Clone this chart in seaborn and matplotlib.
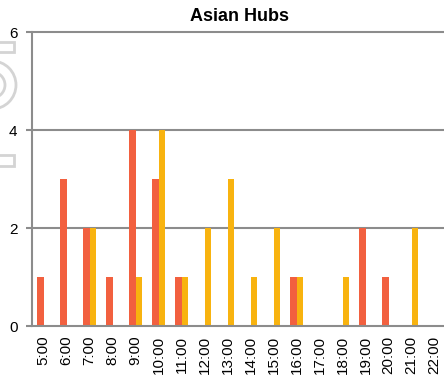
import matplotlib
matplotlib.use("Agg")
import matplotlib.pyplot as plt
from matplotlib.patches import Rectangle, Ellipse
import pandas as pd
import seaborn as sns

# Hourly counts for the two series
hours = ["5:00", "6:00", "7:00", "8:00", "9:00", "10:00", "11:00", "12:00", "13:00",
         "14:00", "15:00", "16:00", "17:00", "18:00", "19:00", "20:00", "21:00", "22:00"]
series_a = [1, 3, 2, 1, 4, 3, 1, 0, 0, 0, 0, 1, 0, 0, 2, 1, 0, 0]
series_b = [0, 0, 2, 0, 1, 4, 1, 2, 3, 1, 2, 1, 0, 1, 0, 0, 2, 0]
series_names = ["A", "B"]
colors = ["#F2603F", "#F8B30F"]
y_ticks = [0, 2, 4, 6]
title = "Asian Hubs"

df = pd.DataFrame({
    "hour": hours * 2,
    "count": series_a + series_b,
    "series": [series_names[0]] * len(hours) + [series_names[1]] * len(hours),
})

sns.set_style("white")
plt.rcParams["font.family"] = ["Liberation Sans", "DejaVu Sans"]
plt.rcParams["text.color"] = "black"
plt.rcParams["xtick.color"] = "black"
plt.rcParams["ytick.color"] = "black"

W, H = 444, 377
fig = plt.figure(figsize=(W / 100, H / 100), dpi=100)
ax = fig.add_axes([32 / W, 1 - 326 / H, 414 / W, 294 / H])

sns.barplot(data=df, x="hour", y="count", hue="series", order=hours,
            palette=colors, width=0.6, gap=0, legend=False, ax=ax,
            saturation=1, linewidth=0)

grey = "#8c8c8c"
ax.set_xlim(-0.5, len(hours) - 0.5)
ax.set_ylim(0, 6)
ax.set_yticks(y_ticks)
ax.set_yticklabels([str(t) for t in y_ticks], fontsize=11, color="black")
for y in y_ticks[1:]:
    ax.axhline(y, color=grey, lw=1.5, zorder=0.5, clip_on=False)

ax.set_xticks(range(len(hours)))
ax.set_xticklabels(hours, rotation=90, fontsize=11, color="black")
ax.set_xticks([i - 0.5 for i in range(len(hours) + 1)], minor=True)
ax.tick_params(axis="x", which="major", length=0, pad=7)
ax.tick_params(axis="x", which="minor", length=4, width=1.5, color=grey, direction="out")
ax.tick_params(axis="y", length=4, width=1.5, color=grey, pad=6.5, left=True)
ax.set_xlabel("")
ax.set_ylabel("")

for side in ["top", "right"]:
    ax.spines[side].set_visible(False)
for side in ["left", "bottom"]:
    ax.spines[side].set_color(grey)
    ax.spines[side].set_linewidth(1.5)

ax.set_title(title, fontsize=13, fontweight="bold", pad=8, color="black")

# Faint emblem on the left margin
light = "#d4d4d4"
def px(x, y):
    return x / W, 1 - y / H
fig.patches.append(Rectangle(px(-2, 52), 16 / W, 10 / H, transform=fig.transFigure,
                             fill=False, ec=light, lw=2))
fig.patches.append(Rectangle(px(-2, 166), 16 / W, 11 / H, transform=fig.transFigure,
                             fill=False, ec=light, lw=2))
for r in (24, 13):
    fig.patches.append(Ellipse(px(-8, 85), 2 * r / W, 2 * r / H, transform=fig.transFigure,
                               fill=False, ec=light, lw=2))

fig.savefig("out.png", dpi=100)
